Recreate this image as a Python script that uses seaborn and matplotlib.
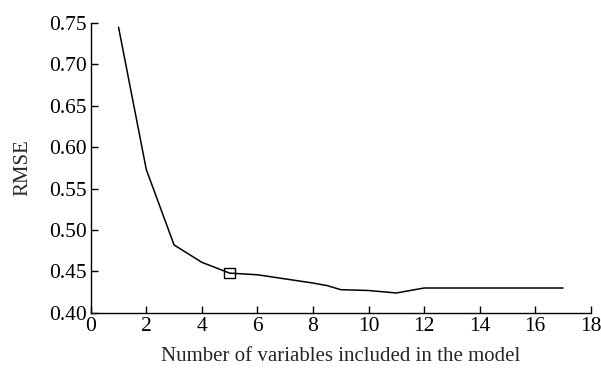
import numpy as np
import pandas as pd
import matplotlib
matplotlib.use("Agg")
import matplotlib.pyplot as plt
import seaborn as sns

# RMSE against number of variables in the model
n_vars = [1, 2, 3, 4, 5, 6, 7, 8, 8.5, 9, 10, 11, 12, 13, 14, 15, 16, 17]
rmse = [0.745, 0.573, 0.482, 0.461, 0.448, 0.446, 0.441, 0.436, 0.433, 0.428,
        0.427, 0.424, 0.430, 0.430, 0.430, 0.430, 0.430, 0.430]
best_n = [5]
best_rmse = [0.448]

df = pd.DataFrame({"n": n_vars, "rmse": rmse})

sns.set_style("ticks")
plt.rcParams["font.family"] = ["Liberation Serif", "DejaVu Serif"]

fig = plt.figure(figsize=(6.01, 3.72), dpi=100)
ax = fig.add_axes([0.151, 0.159, 0.832, 0.779])

sns.lineplot(data=df, x="n", y="rmse", color="black", linewidth=1.1, ax=ax)
sns.scatterplot(x=best_n, y=best_rmse, marker="s", s=60, facecolor="none",
                edgecolor="black", linewidth=1, ax=ax, zorder=3)

ax.set_xlim(0, 18)
ax.set_ylim(0.40, 0.75)
ax.set_xticks(np.arange(0, 19, 2))
ax.set_yticks(np.arange(0.40, 0.751, 0.05))
ax.set_yticklabels([f"{v:.2f}" for v in np.arange(0.40, 0.751, 0.05)])
ax.tick_params(direction="in", length=5, width=1, labelsize=15.5, colors="black", pad=3)
ax.set_xlabel("Number of variables included in the model", fontsize=15, labelpad=8)
ax.set_ylabel("RMSE", fontsize=15, labelpad=12)
sns.despine(ax=ax)
for s in ["left", "bottom"]:
    ax.spines[s].set_color("black")
    ax.spines[s].set_linewidth(1)

fig.savefig("out.png", dpi=100)
